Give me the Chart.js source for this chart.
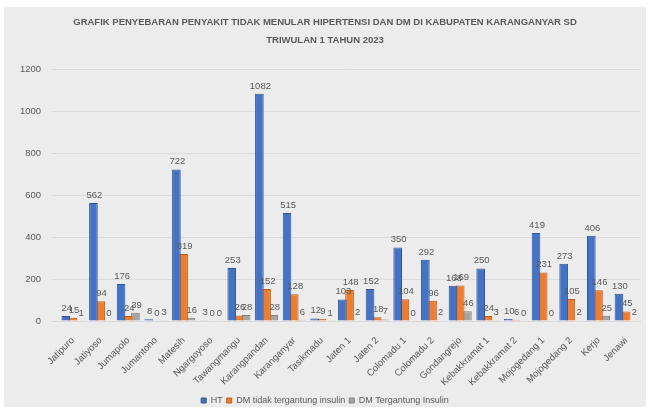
<!DOCTYPE html>
<html>
<head>
<meta charset="utf-8">
<script src="https://cdn.jsdelivr.net/npm/chart.js@4"></script>
<style>
    html, body { margin: 0; padding: 0; background: #ffffff; overflow: hidden; }
    #panel {
        position: absolute; left: 4px; top: 7px;
        width: 642px; height: 400px;
        background: #ececec;
    }
    #chart { position: absolute; left: 0; top: 0; }
</style>
</head>
<body>
<div id="panel"><canvas id="chart" width="642" height="408"></canvas></div>
<script>
// Chart data
const kecamatan = ['Jatipuro', 'Jatiyoso', 'Jumapolo', 'Jumantono', 'Matesih', 'Ngargoyoso',
    'Tawangmangu', 'Karangpandan', 'Karanganyar', 'Tasikmadu', 'Jaten 1', 'Jaten 2',
    'Colomadu 1', 'Colomadu 2', 'Gondangrejo', 'Kebakkramat 1', 'Kebakkramat 2',
    'Mojogedang 1', 'Mojogedang 2', 'Kerjo', 'Jenawi'];
const ht = [24, 562, 176, 8, 722, 3, 253, 1082, 515, 12, 103, 152, 350, 292, 168, 250, 10, 419, 273, 406, 130];
const dmTidakInsulin = [15, 94, 24, 0, 319, 0, 26, 152, 128, 9, 148, 18, 104, 96, 169, 24, 6, 231, 105, 146, 45];
const dmInsulin = [1, 0, 39, 3, 16, 0, 28, 28, 6, 1, 2, 7, 0, 2, 46, 3, 0, 0, 2, 25, 2];
const yTicks = [0, 200, 400, 600, 800, 1000, 1200];

const textColor = '#595959';
const fontFamily = '"Liberation Sans", Arial, sans-serif';

// Value labels above each bar
const valueLabels = {
    id: 'valueLabels',
    afterDatasetsDraw(chart) {
        const ctx = chart.ctx;
        ctx.save();
        ctx.font = '9.5px ' + fontFamily;
        ctx.fillStyle = textColor;
        ctx.textAlign = 'center';
        ctx.textBaseline = 'bottom';
        chart.data.datasets.forEach((ds, i) => {
            chart.getDatasetMeta(i).data.forEach((bar, j) => {
                ctx.fillText(ds.data[j], bar.x + 1, bar.y - 3);
            });
        });
        ctx.restore();
    }
};

const ctx = document.getElementById('chart').getContext('2d');
new Chart(ctx, {
    type: 'bar',
    data: {
        labels: kecamatan,
        datasets: [
            { label: 'HT', data: ht, backgroundColor: '#4472c4', borderColor: '#2f5597', borderWidth: 1 },
            { label: 'DM tidak tergantung insulin', data: dmTidakInsulin, backgroundColor: '#ed7d31', borderColor: '#c55a11', borderWidth: 1 },
            { label: 'DM Tergantung Insulin', data: dmInsulin, backgroundColor: '#a5a5a5', borderColor: '#7f7f7f', borderWidth: 1 }
        ]
    },
    options: {
        responsive: false,
        animation: false,
        layout: { padding: { left: 6, right: 6, top: 0, bottom: 0 } },
        datasets: { bar: { categoryPercentage: 0.78, barPercentage: 1.2 } },
        plugins: {
            title: {
                display: true,
                text: ['GRAFIK PENYEBARAN PENYAKIT TIDAK MENULAR HIPERTENSI DAN DM DI KABUPATEN KARANGANYAR SD', 'TRIWULAN 1 TAHUN 2023'],
                color: textColor,
                font: { family: fontFamily, size: 9.5, weight: 'bold', lineHeight: 1.9 },
                padding: { top: 6, bottom: 20 }
            },
            legend: {
                position: 'bottom',
                labels: {
                    color: textColor,
                    font: { family: fontFamily, size: 9 },
                    boxWidth: 5,
                    boxHeight: 5,
                    padding: 4
                }
            },
            tooltip: { enabled: false }
        },
        scales: {
            x: {
                grid: { display: false },
                border: { color: '#d9d9d9' },
                afterFit(axis) { axis.height = 71; },
                ticks: {
                    color: textColor,
                    font: { family: fontFamily, size: 9.5 },
                    minRotation: 45,
                    maxRotation: 45,
                    autoSkip: false,
                    padding: 6
                }
            },
            y: {
                min: 0,
                max: 1200,
                afterBuildTicks(axis) {
                    axis.ticks = yTicks.map(v => ({ value: v }));
                },
                grid: { color: '#dcdcdc' },
                border: { display: false },
                ticks: {
                    color: textColor,
                    font: { family: fontFamily, size: 9.5 },
                    padding: 10,
                    callback: v => String(v)
                }
            }
        }
    },
    plugins: [valueLabels]
});
</script>
</body>
</html>
